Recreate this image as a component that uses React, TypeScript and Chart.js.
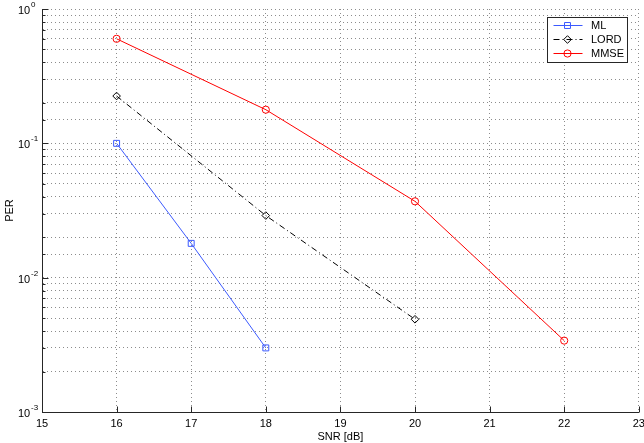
import React, { useEffect, useRef } from 'react';
import { Chart, registerables } from 'chart.js';

Chart.register(...registerables);

// ---- data ----
const mlSnr = [16, 17, 18];
const mlPer = [0.1, 0.018, 0.003];
const lordSnr = [16, 18, 20];
const lordPer = [0.225, 0.029, 0.0049];
const mmseSnr = [16, 18, 20, 22];
const mmsePer = [0.6, 0.178, 0.037, 0.0034];
const xTickValues = [15, 16, 17, 18, 19, 20, 21, 22, 23];
const yDecades = [0, -1, -2, -3];
const seriesNames = ['ML', 'LORD', 'MMSE'];
const xTitle = 'SNR [dB]';
const yTitle = 'PER';

const BLUE = 'rgb(60, 90, 255)';
const RED = 'rgb(255, 0, 0)';
const BLACK = 'rgb(0, 0, 0)';
const AXIS = '#262626';
const GRID = '#8c8c8c';
const FONT = '"Liberation Sans", Arial, Helvetica, sans-serif';

const seriesStyles = [
  { color: BLUE, point: 'rect', dash: [] as number[], radius: 4.2 },
  { color: BLACK, point: 'rectRot', dash: [6, 3, 1, 3], radius: 3.8 },
  { color: RED, point: 'circle', dash: [] as number[], radius: 3.6 },
];

function drawMarker(ctx: CanvasRenderingContext2D, style: string, x: number, y: number, r: number) {
  ctx.beginPath();
  if (style === 'circle') {
    ctx.arc(x, y, r, 0, Math.PI * 2);
  } else if (style === 'rect') {
    const s = r * Math.SQRT1_2;
    ctx.rect(x - s, y - s, 2 * s, 2 * s);
  } else {
    ctx.moveTo(x, y - r);
    ctx.lineTo(x + r, y);
    ctx.lineTo(x, y + r);
    ctx.lineTo(x - r, y);
    ctx.closePath();
  }
  ctx.stroke();
}

const matlabPlugin = {
  id: 'matlabDecor',
  afterDraw(chart: any) {
    const ctx: CanvasRenderingContext2D = chart.ctx;
    const { left, right, top, bottom } = chart.chartArea;
    const xs = chart.scales.x;
    const ys = chart.scales.y;
    ctx.save();
    ctx.setLineDash([]);
    ctx.strokeStyle = AXIS;
    ctx.lineWidth = 1;
    const axisX = Math.round(left) + 0.5;
    const axisY = Math.round(bottom) + 0.5;

    // y ticks (inward)
    ys.ticks.forEach((t: any) => {
      const v = t.value;
      const lg = Math.log10(v);
      const major = Math.abs(lg - Math.round(lg)) < 1e-6;
      const y = Math.round(ys.getPixelForValue(v)) + 0.5;
      ctx.beginPath();
      ctx.moveTo(axisX, y);
      ctx.lineTo(axisX + (major ? 6 : 3), y);
      ctx.stroke();
    });
    // x ticks (inward)
    xTickValues.forEach((v) => {
      const x = Math.round(xs.getPixelForValue(v)) + 0.5;
      ctx.beginPath();
      ctx.moveTo(x, axisY);
      ctx.lineTo(x, axisY - 6);
      ctx.stroke();
    });

    // y tick labels: 10^n
    ctx.fillStyle = '#000';
    ctx.textAlign = 'left';
    ctx.textBaseline = 'alphabetic';
    yDecades.forEach((d) => {
      const y = ys.getPixelForValue(Math.pow(10, d));
      ctx.font = `11px ${FONT}`;
      ctx.fillText('10', left - 24, y + 5);
      ctx.font = `8px ${FONT}`;
      ctx.fillText(String(d), left - 11, y - 2);
    });

    // axis titles
    ctx.font = `11px ${FONT}`;
    ctx.textAlign = 'center';
    ctx.textBaseline = 'middle';
    ctx.fillText(xTitle, (left + right) / 2, 437);
    ctx.save();
    ctx.translate(10, (top + bottom) / 2);
    ctx.rotate(-Math.PI / 2);
    ctx.fillText(yTitle, 0, 0);
    ctx.restore();

    // legend
    const bx = Math.round(right) - 92 + 0.5;
    const by = Math.round(top) + 8 + 0.5;
    const bw = 80;
    const bh = 45;
    ctx.fillStyle = '#fff';
    ctx.fillRect(bx, by, bw, bh);
    ctx.strokeStyle = AXIS;
    ctx.strokeRect(bx, by, bw, bh);
    const rows = [by + 7.5, by + 21.5, by + 35];
    chart.data.datasets.forEach((ds: any, i: number) => {
      const st = seriesStyles[i];
      const y = Math.round(rows[i]) + 0.5;
      ctx.strokeStyle = st.color;
      ctx.lineWidth = 1;
      ctx.setLineDash(st.dash);
      ctx.beginPath();
      ctx.moveTo(bx + 6, y);
      ctx.lineTo(bx + 35, y);
      ctx.stroke();
      ctx.setLineDash([]);
      ctx.fillStyle = '#fff';
      drawMarker(ctx, st.point, bx + 20, y, st.radius);
      ctx.fillStyle = '#000';
      ctx.font = `11px ${FONT}`;
      ctx.textAlign = 'left';
      ctx.textBaseline = 'middle';
      ctx.fillText(ds.label, bx + 43.5, y + 0.5);
    });
    ctx.restore();
  },
};

export default function App() {
  const ref = useRef<HTMLCanvasElement | null>(null);
  useEffect(() => {
    document.body.style.margin = '0';
    const canvas = ref.current;
    if (!canvas) return;
    const mk = (xs: number[], ys: number[]) => xs.map((x, i) => ({ x, y: ys[i] }));
    const datasets = [mk(mlSnr, mlPer), mk(lordSnr, lordPer), mk(mmseSnr, mmsePer)].map((data, i) => ({
      label: seriesNames[i],
      data,
      borderColor: seriesStyles[i].color,
      backgroundColor: 'rgba(0,0,0,0)',
      borderWidth: 1,
      borderDash: seriesStyles[i].dash,
      pointStyle: seriesStyles[i].point,
      pointRadius: seriesStyles[i].radius,
      pointBorderColor: seriesStyles[i].color,
      pointBackgroundColor: 'rgba(0,0,0,0)',
      pointBorderWidth: 1,
      tension: 0,
      fill: false,
    }));
    const chart = new Chart(canvas, {
      type: 'line',
      data: { datasets },
      options: {
        animation: false,
        responsive: false,
        devicePixelRatio: 1,
        layout: { padding: { left: 0, top: 9, right: 5, bottom: 0 } },
        plugins: { legend: { display: false }, tooltip: { enabled: false } },
        scales: {
          x: {
            type: 'linear',
            min: 15,
            max: 23,
            ticks: {
              stepSize: 1,
              autoSkip: false,
              padding: 5,
              color: '#000',
              font: { family: FONT, size: 11 },
            },
            grid: { color: GRID, lineWidth: 1, drawTicks: false },
            border: { display: true, color: AXIS, width: 1, dash: [1, 3] },
            afterFit: (s: any) => {
              s.height = 31;
              s.paddingLeft = 0;
              s.paddingRight = 5;
            },
          },
          y: {
            type: 'logarithmic',
            min: 0.001,
            max: 1,
            ticks: { display: false, autoSkip: false },
            grid: { color: GRID, lineWidth: 1, drawTicks: false },
            border: { display: true, color: AXIS, width: 1, dash: [1, 3] },
            afterFit: (s: any) => {
              s.width = 42;
              s.paddingTop = 0;
              s.paddingBottom = 0;
            },
          },
        },
      } as any,
      plugins: [matlabPlugin],
    });
    return () => chart.destroy();
  }, []);
  return (
    <div style={{ width: 644, height: 443 }}>
      <canvas ref={ref} width={644} height={443} />
    </div>
  );
}
